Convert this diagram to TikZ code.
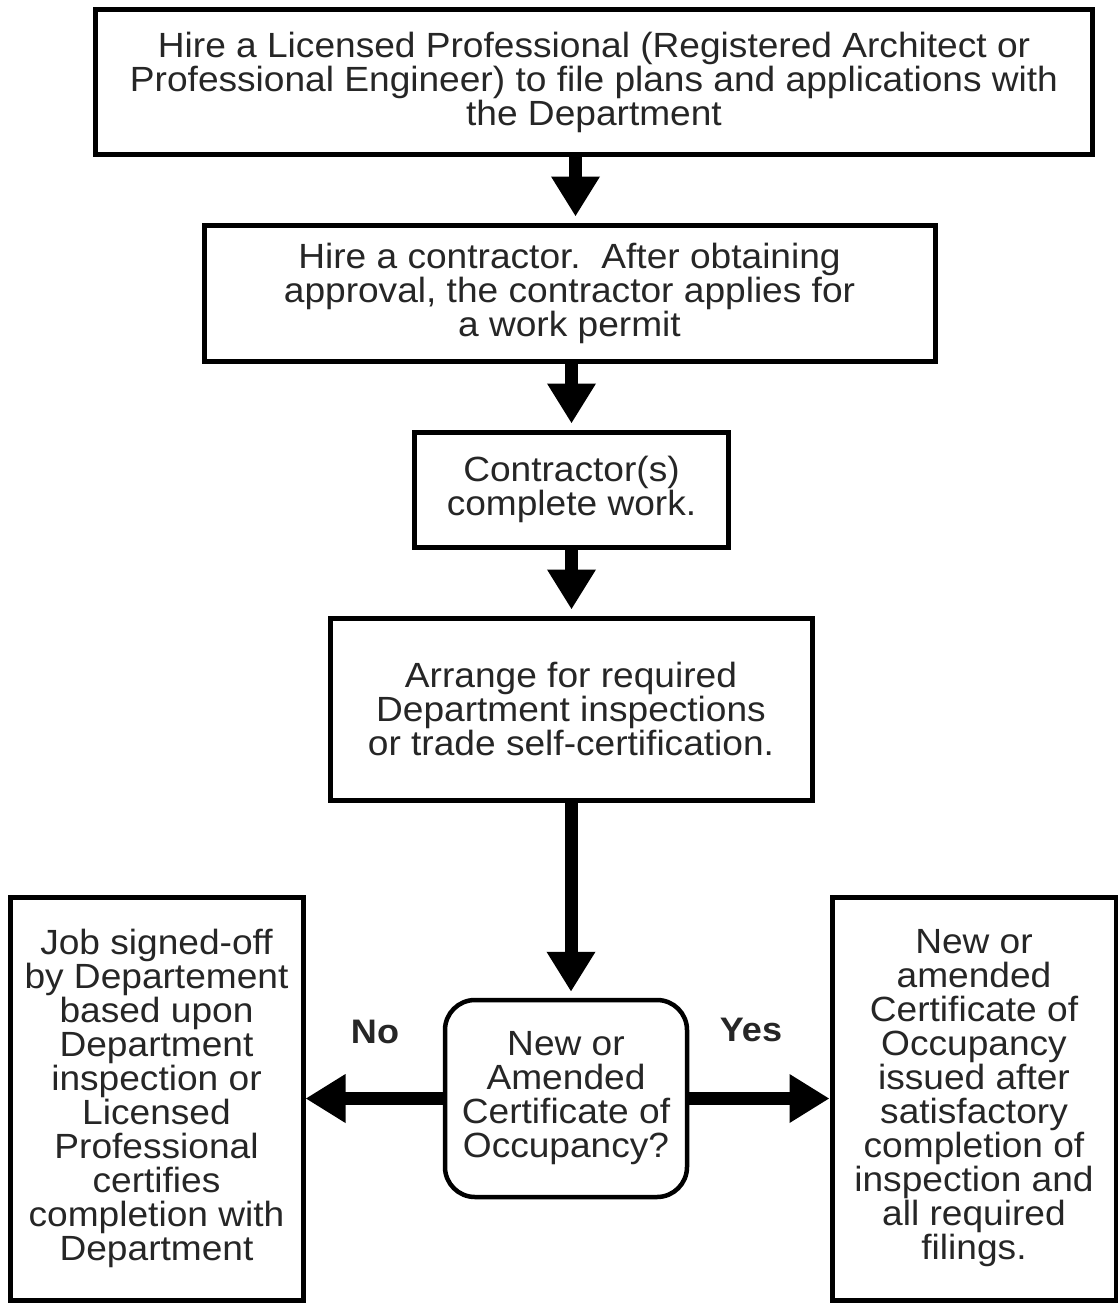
\documentclass[tikz,border=0pt]{standalone}
\usepackage{fontspec}
\setmainfont{Liberation Sans}[FakeStretch=1.06]
\usetikzlibrary{arrows.meta}
\tikzset{
  box/.style={draw=black, line width=5pt, fill=white, align=center, inner sep=0pt,
    text=black!85, font=\fontsize{35}{34}\selectfont},
  decbox/.style={box, line width=4.5pt, rounded corners=30pt},
  flow/.style={line width=13pt, -{Triangle[length=40pt,width=46pt]}, shorten >=6pt},
  lbl/.style={font=\fontsize{34}{34}\selectfont\bfseries, inner sep=0pt, text=black!85}
}
\begin{document}
\begin{tikzpicture}[x=1pt,y=-1pt]
\useasboundingbox (0,0) rectangle (1118,1304);
\node[box, minimum width=997pt, minimum height=145pt] (b1) at (594,82)
  {Hire a Licensed Professional (Registered Architect or\\Professional Engineer) to file plans and applications with\\the Department};
\node[box, minimum width=731pt, minimum height=136pt] (b2) at (569.5,293)
  {Hire a contractor.\ \ After obtaining\\approval, the contractor applies for\\a work permit};
\node[box, minimum width=314pt, minimum height=115pt] (b3) at (571.5,489.5)
  {Contractor(s)\\complete work.};
\node[box, minimum width=482pt, minimum height=182pt] (b4) at (571,709)
  {Arrange for required\\Department inspections\\or trade self-certification.};
\node[decbox, minimum width=242pt, minimum height=197pt] (dec) at (566,1098.5)
  {New or\\Amended\\Certificate of\\Occupancy?};
\node[box, minimum width=293pt, minimum height=403pt] (L) at (156.5,1098.5)
  {Job signed-off\\by Departement\\based upon\\Department\\inspection or\\Licensed\\Professional\\certifies\\completion with\\Department};
\node[box, minimum width=284pt, minimum height=403pt] (R) at (974,1098.5)
  {New or\\amended\\Certificate of\\Occupancy\\issued after\\satisfactory\\completion of\\inspection and\\all required\\filings.};
\node[lbl] (no) at (375,1032) {No};
\node[lbl] (yes) at (751,1030) {Yes};
\draw[flow] ([xshift=6pt]b2.north |- b1.south) -- ([xshift=6pt]b2.north);
\draw[flow] (b3.north |- b2.south) -- (b3.north);
\draw[flow] (b3.south) -- (b4.north -| b3.south);
\draw[flow] (b4.south) -- (b4.south |- dec.north);
\draw[flow, shorten >=0pt] (dec.west) -- (L.east |- dec.west);
\draw[flow, shorten >=0pt] (dec.east) -- (R.west |- dec.east);
\end{tikzpicture}
\end{document}
